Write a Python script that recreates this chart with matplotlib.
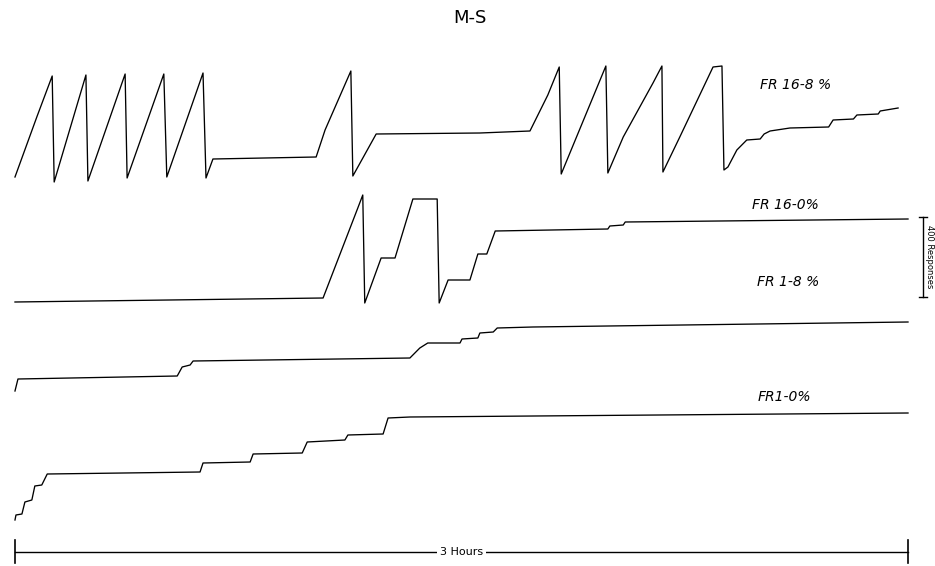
import numpy as np
import matplotlib.pyplot as plt

# cumulative records: time in minutes, pen height in responses
fr16_8_t = [0, 4.4, 7.5, 7.9, 14.3, 14.7, 22.2, 22.6, 30.0, 30.6, 37.9, 38.5, 39.9,
            60.7, 62.5, 67.7, 68.1, 72.8, 93.7, 103.8, 107.4, 109.7, 110.1, 119.1,
            119.5, 122.6, 128.6, 130.4, 130.6, 134.0, 140.7, 142.5, 142.9, 143.7,
            145.5, 147.5, 150.2, 151.0, 152.2, 156.2, 164.0, 164.9, 169.0, 169.7,
            174.0, 174.4, 178.0]
fr16_8_r = [25, 325, 530, 0, 535, 5, 540, 20, 540, 25, 545, 20, 115,
            125, 260, 555, 30, 240, 245, 255, 435, 575, 40, 580,
            45, 225, 495, 580, 50, 225, 575, 580, 60, 75,
            160, 210, 215, 240, 255, 270, 275, 310, 315, 335,
            340, 355, 370]

fr16_0_t = [0, 62.1, 69.1, 70.1, 70.5, 73.8, 76.6, 80.2, 85.1, 85.5, 87.3, 91.7,
            93.3, 95.1, 96.8, 119.5, 119.9, 122.6, 123.0, 180]
fr16_0_r = [5, 25, 475, 540, 0, 225, 225, 520, 520, 0, 115, 115,
            245, 245, 360, 370, 385, 390, 405, 420]

fr1_8_t = [0, 0.6, 32.7, 33.7, 35.3, 35.9, 79.6, 81.6, 83.2, 89.7, 90.1, 93.3,
           93.7, 96.4, 97.2, 104.4, 180]
fr1_8_r = [0, 60, 75, 120, 130, 150, 165, 215, 240, 240, 260, 265,
           290, 295, 315, 320, 345]

fr1_0_t = [0, 0.2, 1.4, 2.0, 3.4, 4.0, 5.4, 6.5, 37.3, 37.9, 47.4, 48.0, 57.9,
           58.9, 66.5, 67.1, 74.2, 75.2, 79.6, 180]
fr1_0_r = [0, 25, 30, 90, 100, 170, 175, 230, 240, 285, 290, 330, 335,
           390, 400, 425, 430, 510, 515, 535]

labels = ['FR 16-8 %', 'FR 16-0%', 'FR 1-8 %', 'FR1-0%']

records = [(fr16_8_t, fr16_8_r), (fr16_0_t, fr16_0_r), (fr1_8_t, fr1_8_r), (fr1_0_t, fr1_0_r)]
offsets = [1920, 1315, 875, 230]
label_pos = [(150.2, 2405), (148.6, 1805), (149.6, 1420), (149.6, 845)]

fig = plt.figure(figsize=(9.35, 5.66), dpi=100)
ax = fig.add_axes([0, 0, 1, 1])
ax.set_xlim(-3.02, 185.44)
ax.set_ylim(0, 2830)
ax.axis('off')

for (t, r), off, lab, (lx, ly) in zip(records, offsets, labels, label_pos):
    ax.plot(t, np.array(r) + off, color='black', lw=0.95)
    ax.text(lx, ly, lab, fontsize=10, style='italic', va='center', ha='left')

# 3 hour time bar
ax.plot([0, 180], [70, 70], color='black', lw=1.0)
ax.plot([0, 0], [15, 130], color='black', lw=1.2)
ax.plot([180, 180], [15, 130], color='black', lw=1.2)
ax.text(90, 70, '3 Hours', fontsize=8, ha='center', va='center',
        bbox=dict(facecolor='white', edgecolor='none', pad=2))

# 400 responses scale bar
ax.plot([183, 183], [1345, 1745], color='black', lw=1.0)
ax.plot([182.2, 183.8], [1745, 1745], color='black', lw=1.0)
ax.plot([182.2, 183.8], [1345, 1345], color='black', lw=1.0)
ax.text(184.4, 1545, '400 Responses', fontsize=6, rotation=270,
        ha='center', va='center')

ax.text(91.7, 2740, 'M-S', fontsize=13, ha='center', va='center')

fig.savefig('out.png', dpi=100)
